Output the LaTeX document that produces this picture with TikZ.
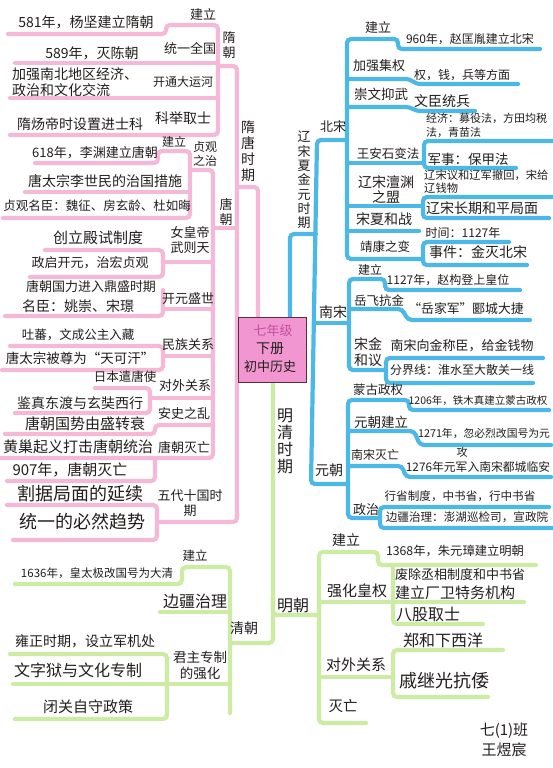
\documentclass[tikz,border=0pt]{standalone}
\usepackage{fontspec}
\setmainfont{Noto Sans CJK SC}
\definecolor{pinkln}{RGB}{246,184,215}
\definecolor{blueln}{RGB}{76,184,232}
\definecolor{greenln}{RGB}{204,236,164}
\definecolor{boxfill}{RGB}{241,150,208}
\definecolor{boxedge}{RGB}{90,45,60}
\definecolor{ink}{RGB}{35,30,30}
\definecolor{rosetxt}{RGB}{196,80,160}
\newcommand{\fz}[2]{\fontsize{#1}{#2}\selectfont}

\begin{document}
\begin{tikzpicture}[x=1pt,y=-1pt,
  pk/.style={draw=pinkln,line width=4.2pt,rounded corners=4pt,line cap=round},
  bl/.style={draw=blueln,line width=4.2pt,rounded corners=4pt,line cap=round},
  gr/.style={draw=greenln,line width=4.2pt,rounded corners=4pt,line cap=round},
  tx/.style={inner sep=0pt,text=ink,font=\fz{13}{15}},
  vt/.style={tx,align=center}]
\useasboundingbox (0,0) rectangle (552,768);
\fill[white] (0,0) rectangle (552,768);

\draw[pk] (258,318) -- (258,187) -- (237,187);
\draw[pk] (218,66) -- (237,66) -- (237,522) -- (157,522);
\draw[pk] (8,34) -- (166,34) -- (166,25) -- (218,25) -- (218,135) -- (10,135);
\draw[pk] (15,63) -- (218,63);
\draw[pk] (10,98) -- (218,98);
\draw[pk] (213,228) -- (237,228);
\draw[pk] (190,170) -- (213,170) -- (213,458) -- (0,458);
\draw[pk] (35,163) -- (158,163) -- (158,151) -- (190,151) -- (190,218) -- (3,218);
\draw[pk] (25,192) -- (190,192);
\draw[pk] (45,250) -- (163,250) -- (163,277) -- (30,277);
\draw[pk] (163,262) -- (213,262);
\draw[pk] (163,290) -- (163,316) -- (5,316);
\draw[pk] (163,309) -- (213,309);
\draw[pk] (10,346) -- (163,346) -- (163,370) -- (2,370);
\draw[pk] (163,356) -- (213,356);
\draw[pk] (95,388) -- (150,388) -- (150,413) -- (15,413);
\draw[pk] (150,398) -- (213,398);
\draw[pk] (5,434) -- (155,434) -- (155,425) -- (213,425);
\draw[pk] (7,481) -- (155,481) -- (155,458);
\draw[pk] (7,505) -- (157,505) -- (157,540) -- (13,540);

\draw[bl] (290,318) -- (290,234) -- (316,234);
\draw[bl] (347,140) -- (317,140) -- (311,484) -- (348,484);
\draw[bl] (540,49) -- (398,49) -- (398,39) -- (347,39) -- (347,259) -- (423,259);
\draw[bl] (347,79) -- (410,79) -- (416,84) -- (518,84);
\draw[bl] (347,107) -- (410,107) -- (416,111) -- (475,111);
\draw[bl] (347,163) -- (424,163);
\draw[bl] (552,141) -- (424,141) -- (424,168) -- (516,168);
\draw[bl] (347,206) -- (423,206);
\draw[bl] (552,197) -- (423,197) -- (423,218) -- (549,218);
\draw[bl] (347,231) -- (419,231);
\draw[bl] (509,242) -- (423,242) -- (423,265) -- (527,265);
\draw[bl] (315,323) -- (349,323);
\draw[bl] (520,290) -- (385,290) -- (385,279) -- (349,279) -- (349,370) -- (386,370);
\draw[bl] (349,309) -- (402,309) -- (408,320) -- (530,320);
\draw[bl] (543,358) -- (386,358) -- (386,383) -- (533,383);
\draw[bl] (549,410) -- (409,410) -- (409,400) -- (348,400) -- (348,518) -- (380,518);
\draw[bl] (348,431) -- (414,431) -- (420,445) -- (551,445);
\draw[bl] (348,466) -- (402,466) -- (406,477) -- (551,477);
\draw[bl] (549,507) -- (380,507) -- (380,528) -- (552,528);

\draw[gr] (273,383) -- (273,643) -- (230,643);
\draw[gr] (273,595) -- (273,615) -- (319,615);
\draw[gr] (536,565) -- (378,565) -- (378,552) -- (319,552) -- (319,723) -- (366,723);
\draw[gr] (319,602) -- (524,602);
\draw[gr] (393,567) -- (393,624) -- (483,624);
\draw[gr] (319,677) -- (393,677);
\draw[gr] (503,650) -- (393,650) -- (393,697) -- (488,697);
\draw[gr] (15,584) -- (182,584) -- (182,567) -- (230,567) -- (230,713);
\draw[gr] (160,612) -- (230,612);
\draw[gr] (10,654) -- (167,654) -- (167,719) -- (15,719);
\draw[gr] (13,684) -- (230,684);

\node[draw=boxedge,fill=boxfill,line width=0.8pt,minimum width=68pt,minimum height=65pt,inner sep=0pt] (root) at (272,350) {};
\node[tx,text=rosetxt] (grade) at (273,331) {七年级};
\node[tx,font=\fz{14}{16}] (vol) at (270,349) {下册};
\node[tx] (subj) at (270,367) {初中历史};

\node[vt,font=\fz{14}{16}] (suitang) at (248,151) {隋\\唐\\时\\期};
\node[vt] (sui) at (229,45) {隋\\朝};
\node[tx] (sjl) at (203,15) {建立};
\node[tx,font=\fz{14}{16}] (s581) at (86,22) {581年，杨坚建立隋朝};
\node[tx] (stongyi) at (190,48) {统一全国};
\node[tx,font=\fz{14}{16}] (s589) at (92,53) {589年，灭陈朝};
\node[tx,font=\fz{12}{14}] (syunhe) at (183,82) {开通大运河};
\node[tx,font=\fz{14}{16},align=left,anchor=west] (sjiaoliu) at (12,82) {加强南北地区经济、\\政治和文化交流};
\node[tx,font=\fz{14}{16}] (skeju) at (183,118) {科举取士};
\node[tx,font=\fz{14}{16}] (sjinshi) at (80,124) {隋炀帝时设置进士科};

\node[vt] (tang) at (226,212) {唐\\朝};
\node[vt,font=\fz{12}{14}] (zhenguan) at (205,154) {贞观\\之治};
\node[tx,font=\fz{12}{14}] (tjl) at (174,142) {建立};
\node[tx] (t618) at (95,153) {618年，李渊建立唐朝};
\node[tx,font=\fz{14}{16}] (tcuoshi) at (105,181) {唐太宗李世民的治国措施};
\node[tx,font=\fz{12.5}{14}] (tmingchen) at (97,206) {贞观名臣：魏征、房玄龄、杜如晦};
\node[vt] (wuzetian) at (190,240) {女皇帝\\武则天};
\node[tx,font=\fz{15}{17}] (dianshi) at (98,238) {创立殿试制度};
\node[tx] (kaiyuan) at (90,263) {政启开元，治宏贞观};
\node[tx] (shengshi) at (188,299) {开元盛世};
\node[tx] (dingsheng) at (91,287) {唐朝国力进入鼎盛时期};
\node[tx,font=\fz{14}{16}] (yaochong) at (78,306) {名臣：姚崇、宋璟};
\node[tx] (minzu) at (188,345) {民族关系};
\node[tx,font=\fz{12.5}{14}] (tubo) at (78,335) {吐蕃，文成公主入藏};
\node[tx,font=\fz{13.5}{15}] (tiankehan) at (80,358) {唐太宗被尊为“天可汗”};
\node[tx] (duiwai) at (185,386) {对外关系};
\node[tx,font=\fz{12.5}{14}] (qiantang) at (125,377) {日本遣唐使};
\node[tx,font=\fz{14}{16}] (jianzhen) at (80,403) {鉴真东渡与玄奘西行};
\node[tx] (anshi) at (184,414) {安史之乱};
\node[tx,font=\fz{15}{17}] (zhuanshuai) at (85,424) {唐朝国势由盛转衰};
\node[tx] (tangmie) at (184,447) {唐朝灭亡};
\node[tx,font=\fz{15}{17}] (huangchao) at (78,447) {黄巢起义打击唐朝统治};
\node[tx,font=\fz{15}{17}] (t907) at (70,470) {907年，唐朝灭亡};
\node[vt] (wudai) at (190,503) {五代十国时\\期};
\node[tx,font=\fz{18}{20}] (geju) at (80,494) {割据局面的延续};
\node[tx,font=\fz{18}{20}] (tongyi) at (82,522) {统一的必然趋势};

\node[vt,font=\fz{13}{14.3}] (liaosong) at (304,180) {辽\\宋\\夏\\金\\元\\时\\期};
\node[tx] (beisong) at (333,127) {北宋};
\node[tx] (bjl) at (378,28) {建立};
\node[tx,font=\fz{12}{14}] (b960) at (470,39) {960年，赵匡胤建立北宋};
\node[tx] (jiquan) at (379,66) {加强集权};
\node[tx,font=\fz{12}{14}] (quanqian) at (462,75) {权，钱，兵等方面};
\node[tx,font=\fz{13.5}{15}] (chongwen) at (381,94) {崇文抑武};
\node[tx,font=\fz{14}{16}] (wenchen) at (442,101) {文臣统兵};
\node[tx,font=\fz{12.5}{14}] (wanganshi) at (388,154) {王安石变法};
\node[tx,font=\fz{11}{14},align=left,anchor=west] (jingji) at (426,125) {经济：募役法，方田均税\\法，青苗法};
\node[tx,font=\fz{13.5}{15}] (junshi) at (468,159) {军事：保甲法};
\node[vt,font=\fz{14}{15}] (chanyuan) at (386,190) {辽宋澶渊\\之盟};
\node[tx,font=\fz{11.3}{13},align=left,anchor=west] (yihe) at (424,182) {辽宋议和辽军撤回，宋给\\辽钱物};
\node[tx,font=\fz{14}{16}] (heping) at (482,208) {辽宋长期和平局面};
\node[tx,font=\fz{14}{16}] (songxia) at (384,219) {宋夏和战};
\node[tx,font=\fz{12.5}{14}] (jingkang) at (385,247) {靖康之变};
\node[tx,font=\fz{12}{14}] (shijian) at (463,233) {时间：1127年};
\node[tx,font=\fz{14}{16}] (shijianjin) at (478,252) {事件：金灭北宋};

\node[tx,font=\fz{14}{16}] (nansong) at (333,312) {南宋};
\node[tx,font=\fz{12}{14}] (njl) at (370,270) {建立};
\node[tx,font=\fz{12}{14}] (n1127) at (448,280) {1127年，赵构登上皇位};
\node[tx,font=\fz{12.5}{14}] (yuefei) at (379,301) {岳飞抗金};
\node[tx,font=\fz{12.8}{14}] (yancheng) at (466,309) {“岳家军”郾城大捷};
\node[vt,font=\fz{14}{16}] (heyi) at (368,352) {宋金\\和议};
\node[tx,font=\fz{13}{15}] (chengchen) at (462,346) {南宋向金称臣，给金钱物};
\node[tx,font=\fz{12}{14}] (fenjie) at (462,370) {分界线：淮水至大散关一线};

\node[tx,font=\fz{14}{16}] (yuan) at (329,470) {元朝};
\node[tx,font=\fz{12.5}{14}] (menggu) at (378,390) {蒙古政权};
\node[tx,font=\fz{10.5}{12}] (y1206) at (478,401) {1206年，铁木真建立蒙古政权};
\node[tx,font=\fz{13.5}{15}] (yuanjl) at (381,422) {元朝建立};
\node[tx,font=\fz{10.8}{13}] (y1271) at (484,434) {1271年，忽必烈改国号为元};
\node[tx,font=\fz{12}{14}] (songwang) at (375,455) {南宋灭亡};
\node[tx,font=\fz{11.8}{13}] (y1276) at (478,467) {1276年元军入南宋都城临安};
\node[tx,font=\fz{11}{13}] (gong) at (462,452) {攻};
\node[tx] (zhengzhi) at (366,510) {政治};
\node[tx,font=\fz{11.6}{13}] (xingsheng) at (460,496) {行省制度，中书省，行中书省};
\node[tx,font=\fz{11.6}{13}] (bianjiang) at (467,517) {边疆治理：澎湖巡检司，宣政院};

\node[vt,font=\fz{16}{17}] (mingqing) at (285,441) {明\\清\\时\\期};
\node[tx,font=\fz{16}{18}] (ming) at (293,605) {明朝};
\node[tx,font=\fz{14}{16}] (mjl) at (346,540) {建立};
\node[tx,font=\fz{12.3}{14}] (m1368) at (455,551) {1368年，朱元璋建立明朝};
\node[tx,font=\fz{15}{17}] (huangquan) at (357,591) {强化皇权};
\node[tx,font=\fz{13}{15}] (chengxiang) at (460,575) {废除丞相制度和中书省};
\node[tx,font=\fz{15}{17}] (changwei) at (455,593) {建立厂卫特务机构};
\node[tx,font=\fz{16}{18}] (bagu) at (428,614) {八股取士};
\node[tx,font=\fz{15}{17}] (mduiwai) at (356,665) {对外关系};
\node[tx,font=\fz{16}{18}] (zhenghe) at (443,640) {郑和下西洋};
\node[tx,font=\fz{18}{20}] (qijiguang) at (444,681) {戚继光抗倭};
\node[tx,font=\fz{14.5}{16}] (mmie) at (343,706) {灭亡};
\node[vt,font=\fz{15}{20}] (sign) at (504,740) {七(1)班\\王煜宸};

\node[tx,font=\fz{14}{16}] (qing) at (244,628) {清朝};
\node[tx,font=\fz{12.5}{14}] (qjl) at (195,556) {建立};
\node[tx,font=\fz{11.5}{13}] (q1636) at (97,573) {1636年，皇太极改国号为大清};
\node[tx,font=\fz{16}{18}] (bianjiangq) at (195,601) {边疆治理};
\node[vt,font=\fz{13.5}{16}] (zhuanzhi) at (200,665) {君主专制\\的强化};
\node[tx,font=\fz{14}{16}] (junjichu) at (85,641) {雍正时期，设立军机处};
\node[tx,font=\fz{16}{18}] (wenziyu) at (78,670) {文字狱与文化专制};
\node[tx,font=\fz{15}{17}] (biguan) at (88,707) {闭关自守政策};
\end{tikzpicture}
\end{document}
